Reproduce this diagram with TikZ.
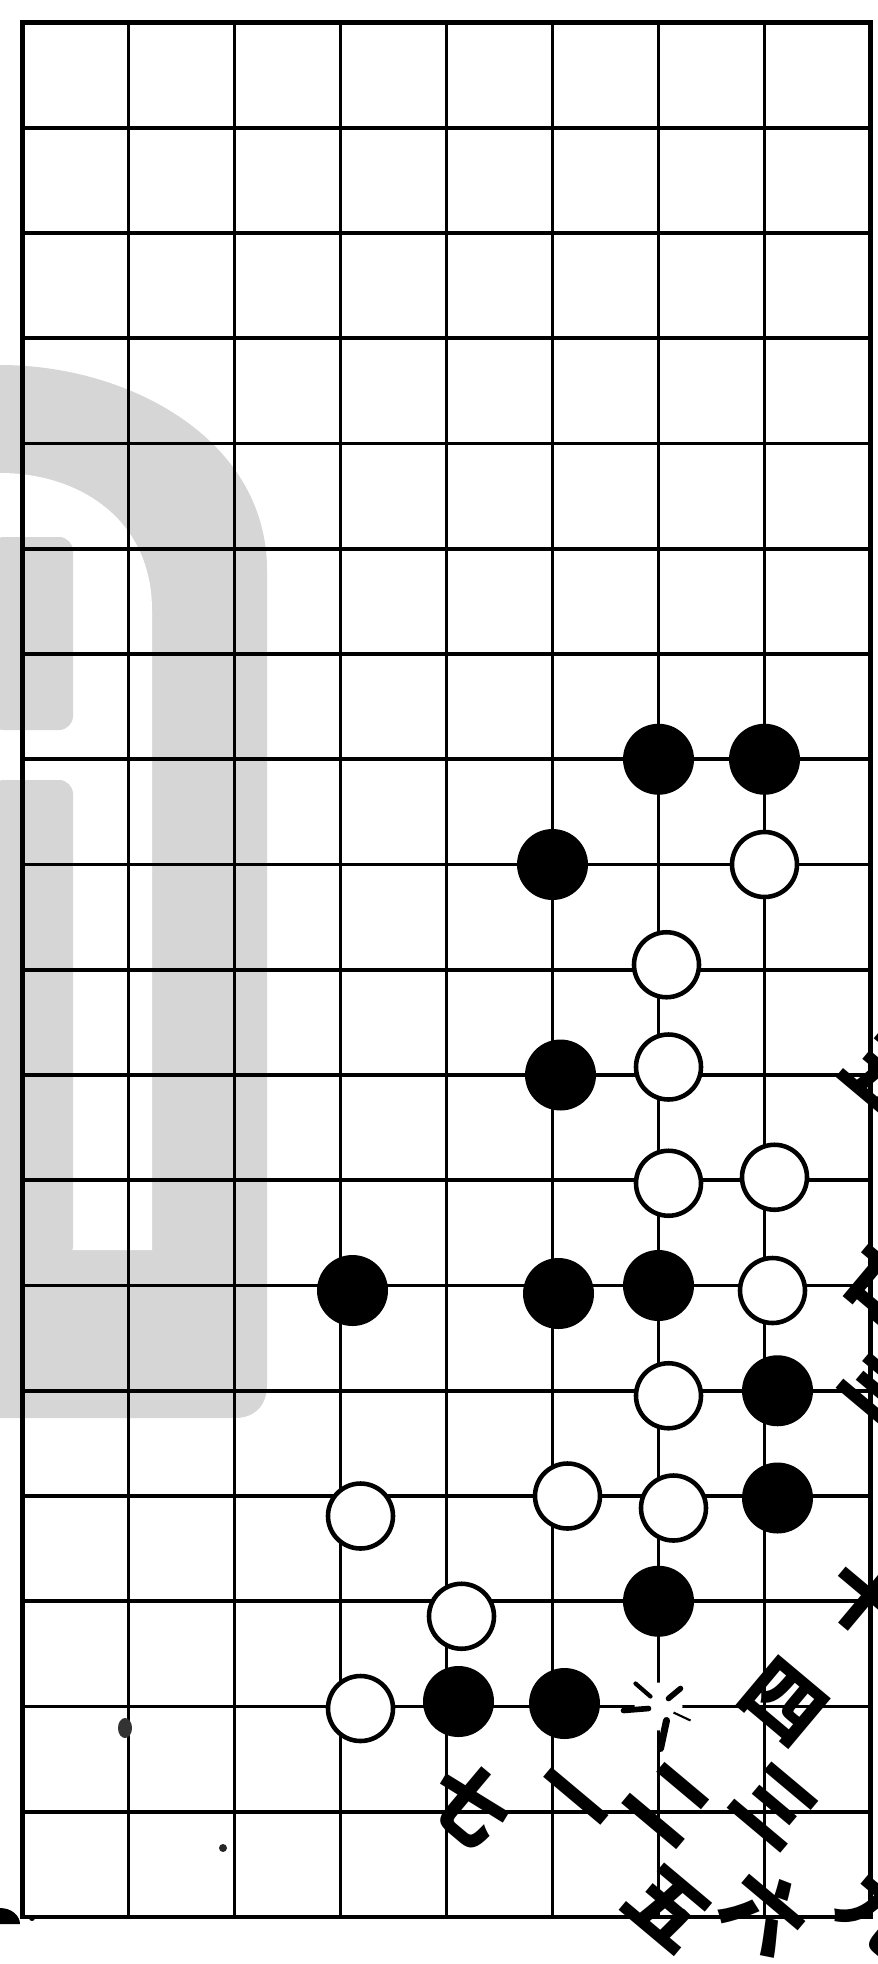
\documentclass[tikz,border=0pt]{standalone}
\usepackage{fontspec}
\newfontfamily\cjk{Noto Sans CJK SC}
\usetikzlibrary{calc}
\begin{document}
\begin{tikzpicture}[x=0.05cm,y=-0.05cm,
  gridline/.style={line width=5.5pt,black},
  borderline/.style={line width=6pt,black},
  bstone/.style={circle,fill=black,minimum size=3.55cm,inner sep=0pt},
  wstone/.style={circle,draw=black,fill=white,line width=6.5pt,minimum size=3.25cm,inner sep=0pt},
  numlabel/.style={font=\cjk\bfseries\fontsize{114}{114}\selectfont,rotate=-40,inner sep=0pt},
  markstroke/.style={line width=8pt,black,line cap=round},
  wm/.style={fill=black!16}]
\fill[white] (0,0) rectangle (877,1964);
\useasboundingbox (0,0) rectangle (877,1964);
% watermark
\fill[wm] (0,365) .. controls (130,365) and (267,440) .. (267,570) -- (267,1385) .. controls (267,1405) and (255,1418) .. (235,1418) -- (0,1418) -- cycle;
\fill[white] (0,473) .. controls (80,473) and (152,520) .. (152,610) -- (152,1250) -- (0,1250) -- cycle;
\fill[wm,rounded corners=20pt] (-10,537) -- (73,537) -- (73,730) -- (-10,730) -- cycle;
\fill[wm,rounded corners=20pt] (-10,780) -- (73,780) -- (73,1260) -- (-10,1260) -- cycle;
% grid coordinates
\foreach \i in {0,...,8}
  \foreach \j in {0,...,18}
    \coordinate (p\i-\j) at ({22.5+106*\i},{22.5+105.25*\j});
\foreach \i in {1,...,7}
  \draw[gridline] (p\i-0) -- (p\i-18);
\foreach \j in {1,...,17}
  \draw[gridline] (p0-\j) -- (p8-\j);
\draw[borderline] (p0-0) rectangle (p8-18);
% ink specks
\fill[black] (0,1908) .. controls (12,1908) and (20,1916) .. (20,1924) -- (0,1924) -- cycle;
\fill[black] (32,1918) circle (3);
\fill[black!80] (125,1728) ellipse (7 and 10);
\fill[black!85] (223,1848) circle (4);
% black stones
\node[bstone] (b1) at (p6-7) {};
\node[bstone] (b2) at (p7-7) {};
\node[bstone] (b3) at (p5-8) {};
\node[bstone] (b4) at ($(p5-10)+(8,0)$) {};
\node[bstone] (b5) at ($(p3-12)+(12,5)$) {};
\node[bstone] (b6) at ($(p5-12)+(6,8)$) {};
\node[bstone] (b7) at (p6-12) {};
\node[bstone] (b8) at ($(p7-13)+(13,0)$) {};
\node[bstone] (b9) at ($(p7-14)+(13,2)$) {};
\node[bstone] (b10) at (p6-15) {};
\node[bstone] (b11) at ($(p4-16)+(12,-5)$) {};
\node[bstone] (b12) at ($(p5-16)+(12,-3)$) {};
% white stones
\node[wstone] (w1) at (p7-8) {};
\node[wstone] (w2) at ($(p6-9)+(8,-5)$) {};
\node[wstone] (w3) at ($(p6-10)+(10,-8)$) {};
\node[wstone] (w4) at ($(p6-11)+(10,3)$) {};
\node[wstone] (w5) at ($(p7-11)+(10,-3)$) {};
\node[wstone] (w6) at ($(p7-12)+(8,5)$) {};
\node[wstone] (w7) at ($(p6-13)+(10,5)$) {};
\node[wstone] (w8) at ($(p3-14)+(20,20)$) {};
\node[wstone] (w9) at ($(p5-14)+(15,0)$) {};
\node[wstone] (w10) at ($(p6-14)+(15,12)$) {};
\node[wstone] (w11) at ($(p4-15)+(15,15)$) {};
\node[wstone] (w12) at ($(p3-16)+(20,2)$) {};
% cross mark
\fill[white] (p6-16) circle (24);
\draw[markstroke,line width=6pt] ($(p6-16)+(-23,-23)$) -- ($(p6-16)+(-8,-10)$);
\draw[markstroke] ($(p6-16)+(10,-8)$) -- ($(p6-16)+(22,-18)$);
\draw[markstroke] ($(p6-16)+(-35,4)$) -- ($(p6-16)+(-10,2)$);
\draw[line width=3pt,black] ($(p6-16)+(15,6)$) -- ($(p6-16)+(32,14)$);
\draw[markstroke,line width=10pt] ($(p6-16)+(2,42)$) -- ($(p6-16)+(8,14)$);
% number labels
\node[numlabel] (l7) at (470,1804) {七};
\node[numlabel] (l1) at (568,1806) {一};
\node[numlabel] (l2) at (668,1804) {二};
\node[numlabel] (l3) at (775,1806) {三};
\node[numlabel] (l4) at (783,1702) {四};
\node[numlabel] (l5) at (668,1908) {五};
\node[numlabel] (l6) at (766,1912) {六};
\node[numlabel] (l9) at (882,1912) {九};
\node[numlabel] (r1) at (885,1075) {五};
\node[numlabel] (r2) at (885,1282) {廿};
\node[numlabel] (r3) at (885,1385) {亖};
\node[numlabel] (r4) at (868,1598) {十};
\end{tikzpicture}
\end{document}
